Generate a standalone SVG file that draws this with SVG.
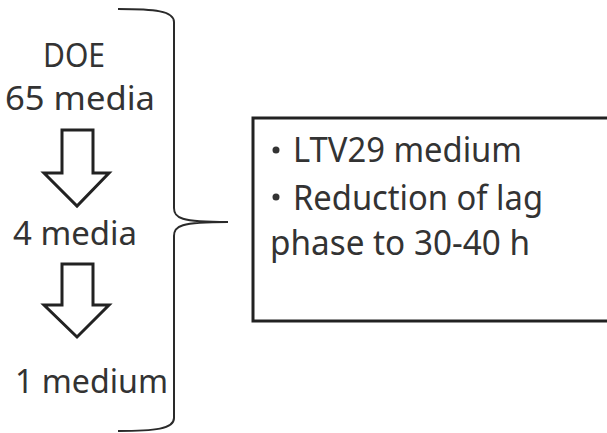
<svg xmlns="http://www.w3.org/2000/svg" width="607" height="433" viewBox="0 0 607 433">
<style>
.t{font-family:"Noto Sans","Open Sans",sans-serif;fill:#333;font-size:33px}
.r{font-size:34px}
.ln{fill:none;stroke:#2a2a2a;stroke-width:2}
.arr{fill:#fff;stroke:#222;stroke-width:3;stroke-linejoin:miter}
.b{fill:#333}
</style>
<rect width="607" height="433" fill="#fff"/>
<g id="left-labels">
<text class="t" x="43" y="67" textLength="62" lengthAdjust="spacingAndGlyphs">DOE</text>
<text class="t" x="5" y="110" textLength="150" lengthAdjust="spacingAndGlyphs">65 media</text>
<text class="t" x="13" y="245" textLength="124" lengthAdjust="spacingAndGlyphs">4 media</text>
<text class="t" x="15" y="393" textLength="153" lengthAdjust="spacingAndGlyphs">1 medium</text>
</g>
<g id="arrow1"><path class="arr" d="M62,130 H93 V173 H109 L77,206 L44,173 H62 Z"/></g>
<g id="arrow2"><path class="arr" d="M62,264 H93 V305 H109 L77,337 L44,305 H62 Z"/></g>
<g id="connectors">
<path class="ln" d="M118,9 C155,9 174,11 174,22 V208 C174,218 180,222 228,222 C180,222 174,226 174,236 V418 C174,429 155,431 118,431"/>
</g>
<g id="result-box">
<rect x="253" y="118" width="370" height="203" fill="#fff" stroke="#222" stroke-width="3"/>
<circle class="b" cx="276" cy="150" r="3.5"/>
<text class="t r" x="293" y="162" textLength="229" lengthAdjust="spacingAndGlyphs">LTV29 medium</text>
<circle class="b" cx="276" cy="197" r="3.5"/>
<text class="t r" x="293" y="210" textLength="250" lengthAdjust="spacingAndGlyphs">Reduction of lag</text>
<text class="t r" x="270" y="255" textLength="260" lengthAdjust="spacingAndGlyphs">phase to 30-40 h</text>
</g>
</svg>
